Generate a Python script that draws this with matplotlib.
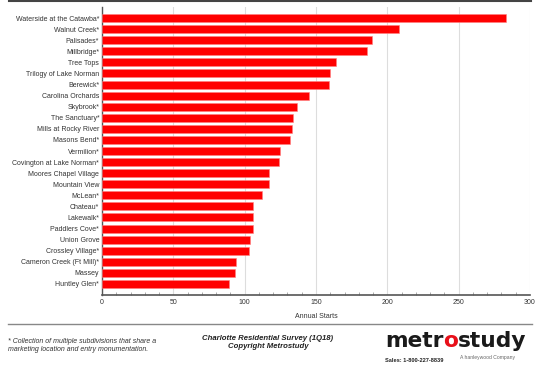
import matplotlib.pyplot as plt
from matplotlib.lines import Line2D

communities = ['Waterside at the Catawba*', 'Walnut Creek*', 'Palisades*', 'Millbridge*',
               'Tree Tops', 'Trilogy of Lake Norman', 'Berewick*', 'Carolina Orchards',
               'Skybrook*', 'The Sanctuary*', 'Mills at Rocky River', 'Masons Bend*',
               'Vermilion*', 'Covington at Lake Norman*', 'Moores Chapel Village',
               'Mountain View', 'McLean*', 'Chateau*', 'Lakewalk*', 'Paddlers Cove*',
               'Union Grove', 'Crossley Village*', 'Cameron Creek (Ft Mill)*', 'Massey',
               'Huntley Glen*']
annual_starts = [283, 208, 189, 186, 164, 160, 159, 145, 137, 134, 133, 132, 125, 124,
                 117, 117, 112, 106, 106, 106, 104, 103, 94, 93, 89]
x_ticks = [0, 50, 100, 150, 200, 250, 300]

plt.rcParams['font.family'] = ['Liberation Sans', 'DejaVu Sans']

fig = plt.figure(figsize=(5.48, 3.66), dpi=100)
ax = fig.add_axes([102/548, 1-295/366, 428/548, 288/366])

ypos = range(len(communities))
ax.barh(ypos, annual_starts, height=0.72, color='#ff0000', edgecolor='#ff8080',
        linewidth=0.4, zorder=3)
ax.set_ylim(len(communities), -1)
ax.set_xlim(0, 300)
ax.set_yticks(list(ypos))
ax.set_yticklabels(communities, fontsize=5, color='#333333')
ax.set_xticks(x_ticks)
ax.set_xticklabels([str(v) for v in x_ticks], fontsize=5, color='#333333')
ax.set_xticks(range(0, 301, 10), minor=True)
ax.tick_params(axis='y', length=0, pad=2)
ax.tick_params(axis='x', which='major', direction='in', length=0, pad=3)
ax.tick_params(axis='x', which='minor', direction='in', length=2, width=0.5, color='#888888')
ax.grid(axis='x', color='#dddddd', linewidth=0.8, zorder=0)
for s in ['top', 'right']:
    ax.spines[s].set_visible(False)
ax.spines['left'].set_color('#555555')
ax.spines['bottom'].set_color('#555555')
ax.spines['left'].set_linewidth(1.0)
ax.spines['bottom'].set_linewidth(1.2)
ax.set_xlabel('Annual Starts', fontsize=5, color='#333333', labelpad=5)

# frame lines
fig.add_artist(Line2D([9/548, 531/548], [1-1/366, 1-1/366], color='#444444', linewidth=1.5))
fig.add_artist(Line2D([8/548, 532/548], [1-324/366, 1-324/366], color='#888888', linewidth=1.0))

# footer
fig.text(8/548, 1-345.5/366, '* Collection of multiple subdivisions that share a\nmarketing location and entry monumentation.',
         fontsize=5.0, style='italic', color='#333333', va='center', linespacing=1.3)
fig.text(268/548, 1-342.5/366, 'Charlotte Residential Survey (1Q18)\nCopyright Metrostudy',
         fontsize=5.6, style='italic', weight='bold', color='#222222', ha='center', va='center',
         linespacing=1.15)

logo = fig.add_axes([0, 0, 1, 1], facecolor='none')
logo.set_axis_off()
logo.set_xlim(0, 548)
logo.set_ylim(366, 0)
t1 = logo.text(385, 351, 'metr', fontsize=15.7, weight='bold', color='#1a1a1a',
               family='DejaVu Sans', va='bottom', ha='left')
t2 = logo.annotate('o', xy=(1, 0), xycoords=t1, fontsize=15.7, weight='bold', color='#e8101a',
                   family='DejaVu Sans', va='bottom', ha='left')
logo.annotate('study', xy=(1, 0), xycoords=t2, fontsize=15.7, weight='bold', color='#1a1a1a',
              family='DejaVu Sans', va='bottom', ha='left')
logo.text(385, 360, 'Sales: 1-800-227-8839', fontsize=4.1, weight='bold', color='#222222',
          va='center', ha='left')
logo.text(460, 357, 'A hanleywood Company', fontsize=3.6, color='#666666', va='center', ha='left')

fig.savefig('out.png', dpi=100)
